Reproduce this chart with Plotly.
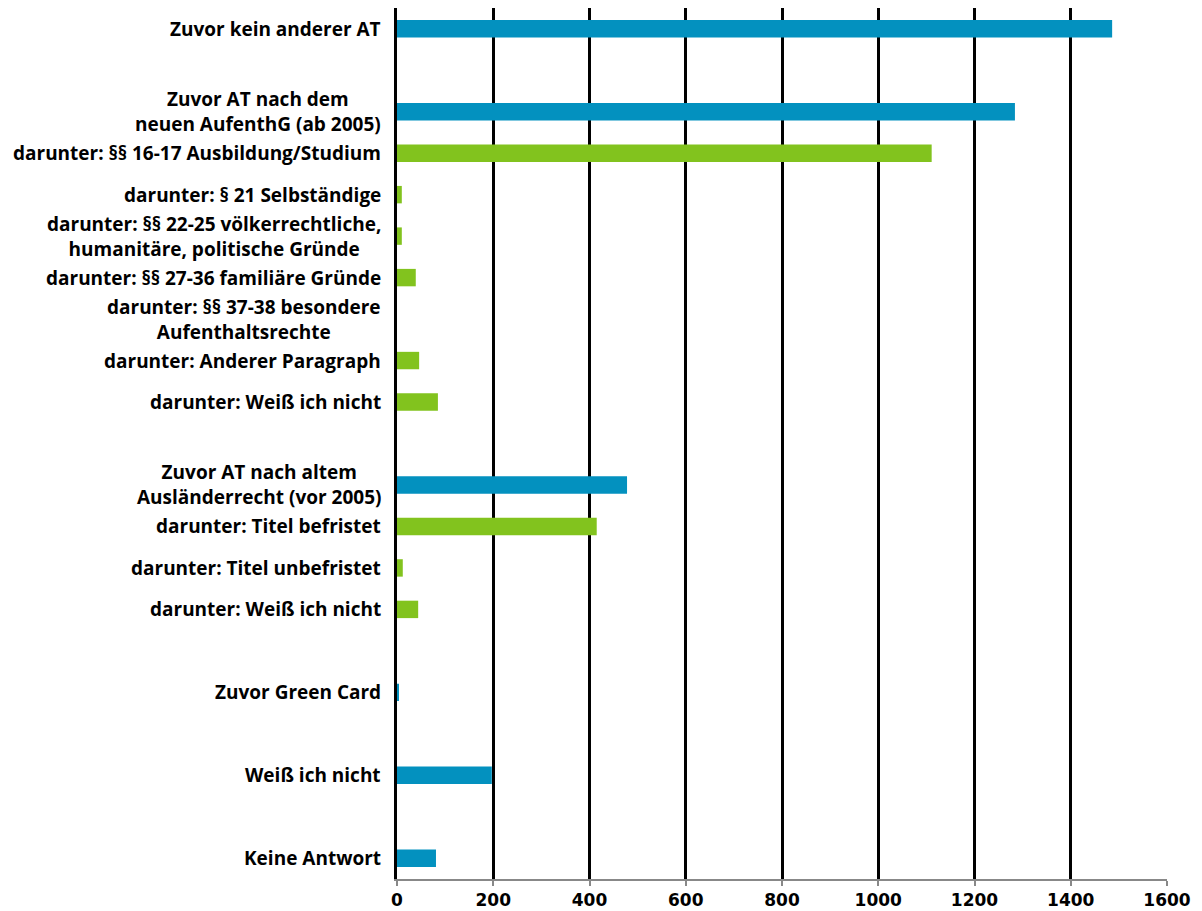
import plotly.graph_objects as go

labels = [
    "Zuvor kein anderer AT",
    "",
    "Zuvor AT nach dem<br>neuen AufenthG (ab 2005)",
    "darunter: §§ 16-17 Ausbildung/Studium",
    "darunter: § 21 Selbständige",
    "darunter: §§ 22-25 völkerrechtliche,<br>humanitäre, politische Gründe",
    "darunter: §§ 27-36 familiäre Gründe",
    "darunter: §§ 37-38 besondere<br>Aufenthaltsrechte",
    "darunter: Anderer Paragraph",
    "darunter: Weiß ich nicht",
    "",
    "Zuvor AT nach altem<br>Ausländerrecht (vor 2005)",
    "darunter: Titel befristet",
    "darunter: Titel unbefristet",
    "darunter: Weiß ich nicht",
    "",
    "Zuvor Green Card",
    "",
    "Weiß ich nicht",
    "",
    "Keine Antwort",
]
values = [1486, None, 1284, 1111, 10, 10, 39, 0, 46, 85, None,
          478, 415, 12, 44, None, 3, None, 197, None, 81]
groups = ["main", None, "main", "sub", "sub", "sub", "sub", "sub", "sub", "sub", None,
          "main", "sub", "sub", "sub", None, "main", None, "main", None, "main"]
x_ticks = [0, 200, 400, 600, 800, 1000, 1200, 1400, 1600]

BLUE = "#0391BF"
GREEN = "#82C31E"

# unique category keys (spacers need distinct names)
cats = [f"c{i}" for i in range(len(labels))]
colors = [BLUE if g == "main" else GREEN for g in groups]

fig = go.Figure(go.Bar(
    x=values, y=cats, orientation="h",
    marker=dict(color=colors, line=dict(width=0)),
    hoverinfo="skip",
))

annotations = []
for c, lab in zip(cats, labels):
    if lab:
        annotations.append(dict(
            x=0, xref="paper", y=c, yref="y", text=lab, showarrow=False,
            xanchor="right", yanchor="middle", align="center", xshift=-14,
            font=dict(family="Open Sans", size=19, color="#000000", weight="bold"),
        ))

fig.update_layout(
    width=1194, height=903,
    margin=dict(l=389, r=35, t=0, b=32),
    plot_bgcolor="white", paper_bgcolor="white",
    bargap=0.58,
    showlegend=False,
    annotations=annotations,
    xaxis=dict(
        range=[0, 1600], tickvals=x_ticks, ticktext=[str(v) for v in x_ticks],
        showgrid=True, gridcolor="#000000", gridwidth=3,
        zeroline=False,
        showline=True, linecolor="#888888", linewidth=2,
        ticks="outside", ticklen=5, tickcolor="#888888", tickwidth=2,
        tickfont=dict(family="DejaVu Sans", size=17, color="#000000", weight="bold"),
    ),
    yaxis=dict(
        type="category", categoryorder="array", categoryarray=cats,
        autorange="reversed", showticklabels=False, ticks="",
        showgrid=False, zeroline=False,
        showline=True, linecolor="#000000", linewidth=3,
    ),
)

fig.write_html("out.html")
